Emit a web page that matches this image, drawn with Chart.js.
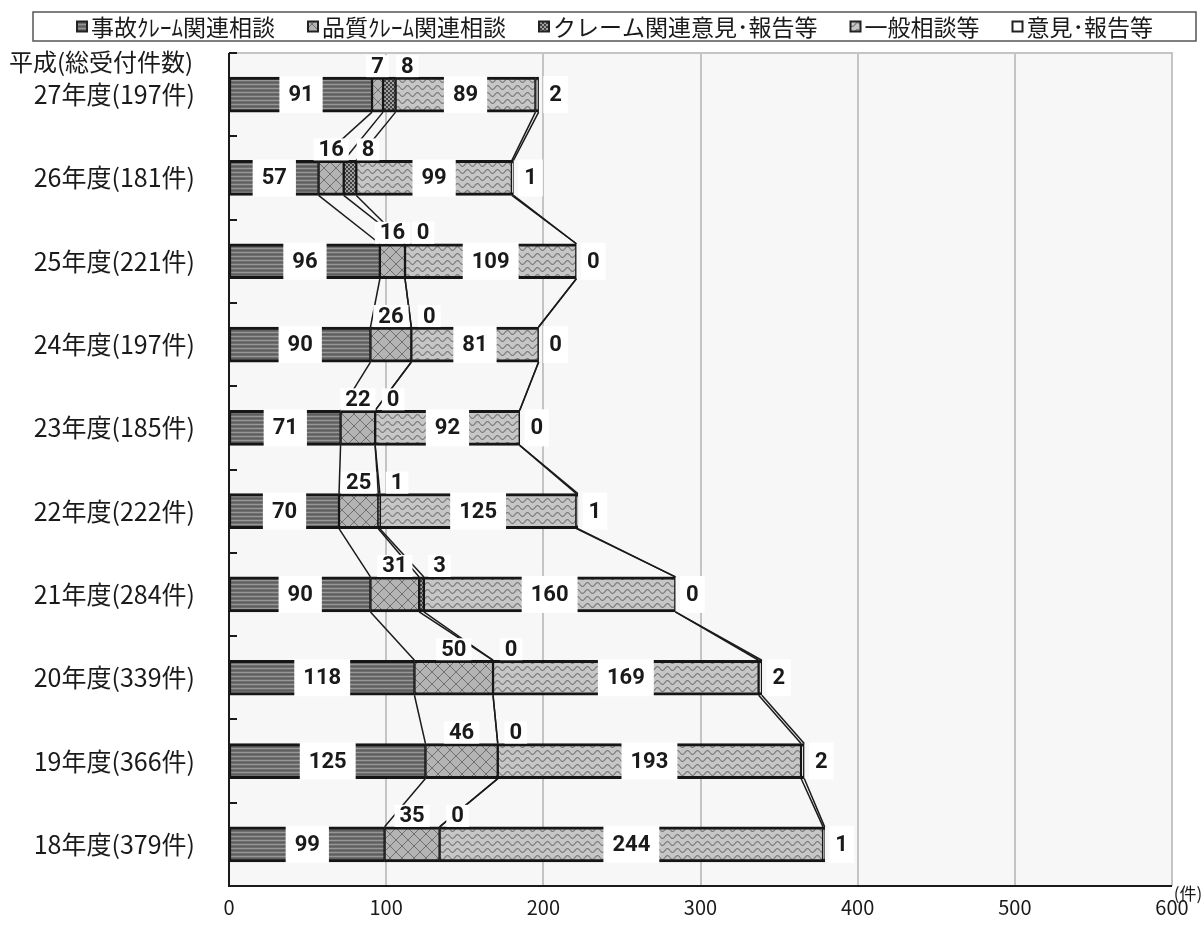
<!DOCTYPE html>
<html lang="ja">
<head>
<meta charset="UTF-8">
<title>相談受付件数の推移</title>
<style>
  body { margin: 0; background: #fff; }
</style>
</head>
<body>
<canvas id="myChart" width="1204" height="927"></canvas>
<script src="https://cdn.jsdelivr.net/npm/chart.js"></script>
<script>
// 年度（上から新しい順）
const categories = ['27年度(197件)', '26年度(181件)', '25年度(221件)', '24年度(197件)', '23年度(185件)',
  '22年度(222件)', '21年度(284件)', '20年度(339件)', '19年度(366件)', '18年度(379件)'];
const seriesNames = ['事故ｸﾚｰﾑ関連相談', '品質ｸﾚｰﾑ関連相談', 'クレーム関連意見･報告等', '一般相談等', '意見･報告等'];
const jiko = [91, 57, 96, 90, 71, 70, 90, 118, 125, 99];
const hinshitsu = [7, 16, 16, 26, 22, 25, 31, 50, 46, 35];
const claimIken = [8, 8, 0, 0, 0, 1, 3, 0, 0, 0];
const ippan = [89, 99, 109, 81, 92, 125, 160, 169, 193, 244];
const iken = [2, 1, 0, 0, 0, 1, 0, 2, 2, 1];
const xTicks = [0, 100, 200, 300, 400, 500, 600];

const JP = "'Noto Sans CJK JP', 'Noto Sans', sans-serif";
const NUM = "Roboto, 'Noto Sans', sans-serif";

function tile(w, h, draw) {
  const c = document.createElement('canvas');
  c.width = w; c.height = h;
  draw(c.getContext('2d'));
  return c.getContext('2d').createPattern(c, 'repeat');
}

// 模様
const patStripe = tile(4, 4, g => {
  g.fillStyle = '#6e6e6e'; g.fillRect(0, 0, 4, 4);
  g.fillStyle = '#979797'; g.fillRect(0, 0, 4, 1);
  g.fillStyle = '#5e5e5e'; g.fillRect(0, 2, 4, 1);
});
const patDiamond = tile(12, 12, g => {
  g.fillStyle = '#b4b4b4'; g.fillRect(0, 0, 12, 12);
  g.strokeStyle = '#707070'; g.lineWidth = 1;
  g.beginPath();
  g.moveTo(0, 0); g.lineTo(12, 12);
  g.moveTo(12, 0); g.lineTo(0, 12);
  g.stroke();
});
const patDots = tile(4, 4, g => {
  g.fillStyle = '#a0a0a0'; g.fillRect(0, 0, 4, 4);
  g.fillStyle = '#404040'; g.fillRect(0, 0, 2, 2); g.fillRect(2, 2, 2, 2);
});
const patWave = tile(10, 7, g => {
  g.fillStyle = '#c6c6c6'; g.fillRect(0, 0, 10, 7);
  g.strokeStyle = '#7c7c7c'; g.lineWidth = 1.2;
  g.beginPath();
  for (let x = 0; x <= 10; x += 0.5) {
    const y = 3.5 + 2 * Math.sin(x / 10 * Math.PI * 2);
    if (x === 0) g.moveTo(x, y); else g.lineTo(x, y);
  }
  g.stroke();
});
const fills = [patStripe, patDiamond, patDots, patWave, '#ffffff'];
const values = [jiko, hinshitsu, claimIken, ippan, iken];

function whiteBox(ctx, text, cx, cy, padX, boxH) {
  const w = ctx.measureText(text).width + padX * 2;
  ctx.fillStyle = '#ffffff';
  ctx.fillRect(cx - w / 2, cy - boxH / 2, w, boxH);
  ctx.fillStyle = '#1a1a1a';
  ctx.fillText(text, cx, cy + 1);
}

const extras = {
  id: 'extras',
  beforeDraw(chart) {
    const { ctx, chartArea: a } = chart;
    ctx.save();
    ctx.fillStyle = '#f7f7f7';
    ctx.fillRect(a.left, a.top, a.right - a.left, a.bottom - a.top);
    ctx.restore();
  },
  beforeDatasetsDraw(chart) {
    const { ctx, chartArea: a, scales } = chart;
    ctx.save();
    ctx.strokeStyle = '#c4c4c4'; ctx.lineWidth = 2;
    ctx.beginPath();
    ctx.moveTo(a.left, a.top); ctx.lineTo(a.right, a.top); ctx.lineTo(a.right, a.bottom);
    ctx.stroke();
    ctx.strokeStyle = '#1a1a1a'; ctx.lineWidth = 2;
    ctx.beginPath();
    ctx.moveTo(a.left, a.top); ctx.lineTo(a.left, a.bottom); ctx.lineTo(a.right, a.bottom);
    ctx.stroke();
    // 区切りの目盛
    for (let i = 0; i <= categories.length; i++) {
      const y = Math.round(scales.y.getPixelForValue(i - 0.5));
      ctx.beginPath(); ctx.moveTo(a.left, y); ctx.lineTo(a.left + 8, y); ctx.stroke();
    }
    ctx.restore();
  },
  afterDatasetsDraw(chart) {
    const { ctx } = chart;
    const metas = values.map((_, d) => chart.getDatasetMeta(d));
    ctx.save();
    // 区分線
    ctx.strokeStyle = '#1a1a1a'; ctx.lineWidth = 1.5;
    metas.forEach(meta => {
      for (let i = 0; i < meta.data.length - 1; i++) {
        const p = meta.data[i], q = meta.data[i + 1];
        ctx.beginPath();
        ctx.moveTo(p.x, p.y + p.height / 2);
        ctx.lineTo(q.x, q.y - q.height / 2);
        ctx.stroke();
      }
    });
    // データラベル
    ctx.font = 'bold 22px ' + NUM;
    ctx.textAlign = 'center'; ctx.textBaseline = 'middle';
    metas.forEach((meta, d) => {
      meta.data.forEach((el, i) => {
        const v = String(values[d][i]);
        const mid = (el.x + el.base) / 2;
        const top = el.y - el.height / 2;
        if (d === 0 || d === 3) whiteBox(ctx, v, mid, el.y, 9, el.height + 2);
        else if (d === 1) whiteBox(ctx, v, mid, top - 11, 5, 22);
        else if (d === 2) whiteBox(ctx, v, mid + 18, top - 11, 5, 22);
        else whiteBox(ctx, v, el.x + 17, el.y, 6, el.height + 2);
      });
    });
    ctx.restore();
  },
  afterDraw(chart) {
    const { ctx, chartArea: a } = chart;
    ctx.save();
    ctx.fillStyle = '#1a1a1a';
    ctx.textBaseline = 'middle';
    ctx.font = '24px ' + JP;
    ctx.textAlign = 'left';
    ctx.fillText('平成(総受付件数)', 9, 62);
    ctx.font = '17px ' + JP;
    ctx.textAlign = 'center';
    ctx.fillText('(件)', a.right + 16, a.bottom + 8);

    // 凡例
    const boxL = 33, boxR = 1196, boxT = 12, boxB = 41;
    ctx.strokeStyle = '#555'; ctx.lineWidth = 1.5;
    ctx.fillStyle = '#fff';
    ctx.fillRect(boxL, boxT, boxR - boxL, boxB - boxT);
    ctx.strokeRect(boxL, boxT, boxR - boxL, boxB - boxT);
    ctx.font = '23px ' + JP;
    ctx.textAlign = 'left';
    const gap = 32, icon = 12, iconGap = 3;
    const widths = seriesNames.map(s => icon + iconGap + ctx.measureText(s).width);
    const total = widths.reduce((s, w) => s + w, 0) + gap * (seriesNames.length - 1);
    let x = (boxL + boxR) / 2 - total / 2;
    const cy = (boxT + boxB) / 2;
    seriesNames.forEach((s, d) => {
      ctx.fillStyle = '#222';
      ctx.fillRect(x, cy - icon / 2, icon, icon);
      ctx.fillStyle = fills[d];
      ctx.fillRect(x + 2, cy - icon / 2 + 2, icon - 4, icon - 4);
      ctx.fillStyle = '#1a1a1a';
      ctx.fillText(s, x + icon + iconGap, cy + 1);
      x += widths[d] + gap;
    });
    ctx.restore();
  }
};

new Chart(document.getElementById('myChart'), {
  type: 'bar',
  data: {
    labels: categories,
    datasets: values.map((v, d) => ({
      label: seriesNames[d],
      data: v,
      backgroundColor: fills[d],
      borderColor: '#161616',
      borderWidth: { top: 3, bottom: 3, left: 1.5, right: 1.5 },
      borderSkipped: false,
      barThickness: 35
    }))
  },
  options: {
    indexAxis: 'y',
    responsive: false,
    animation: false,
    devicePixelRatio: 1,
    layout: { padding: { top: 53, right: 32, left: 0, bottom: 0 } },
    plugins: { legend: { display: false }, tooltip: { enabled: false } },
    scales: {
      x: {
        stacked: true,
        min: 0, max: 600,
        afterBuildTicks(s) { s.ticks = xTicks.map(v => ({ value: v })); },
        afterFit(s) { s.height = 32; },
        ticks: { color: '#1a1a1a', padding: 9, font: { size: 20, family: JP } },
        grid: { color: '#c4c4c4', lineWidth: 2, drawTicks: false },
        border: { display: false }
      },
      y: {
        stacked: true,
        afterFit(s) { s.width = 229; },
        ticks: { color: '#1a1a1a', padding: 26, font: { size: 25, family: JP } },
        grid: { display: false },
        border: { display: false }
      }
    }
  },
  plugins: [extras]
});
</script>
</body>
</html>
